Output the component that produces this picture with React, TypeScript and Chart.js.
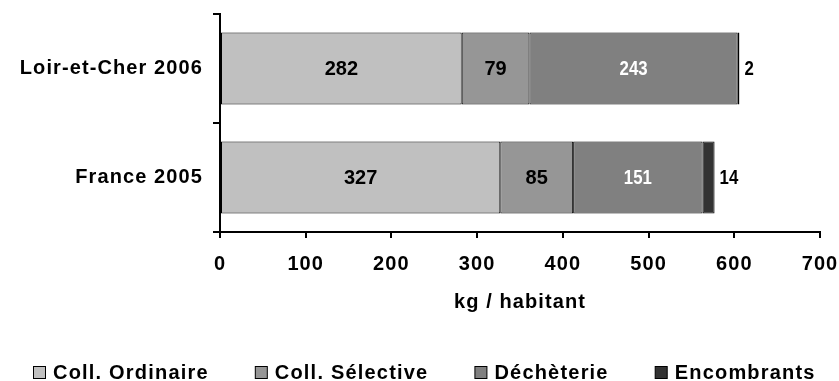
import React, { useEffect, useRef } from "react";
import { Chart, registerables } from "chart.js";

Chart.register(...registerables);

// ---- data ----
const categories = ["Loir-et-Cher 2006", "France 2005"];
const seriesNames = ["Coll. Ordinaire", "Coll. Sélective", "Déchèterie", "Encombrants"];
const collOrdinaire = [282, 327];
const collSelective = [79, 85];
const decheterie = [243, 151];
const encombrants = [2, 14];
const xMin = 0;
const xMax = 700;
const xStep = 100;
const axisTitle = "kg / habitant";

// ---- styles ----
const FONT = '"Liberation Sans", Arial, Helvetica, sans-serif';
const colors = ["#C0C0C0", "#969696", "#808080", "#333333"];
const labelStyles = [
  { color: "#000", outside: false, narrow: false },
  { color: "#000", outside: false, narrow: false },
  { color: "#fff", outside: false, narrow: true },
  { color: "#000", outside: true, narrow: true },
];
const SPACING = "1.1px";

const spacingPlugin = {
  id: "spacing",
  beforeLayout(chart: any) {
    chart.ctx.letterSpacing = SPACING;
  },
  beforeDraw(chart: any) {
    chart.ctx.letterSpacing = SPACING;
  },
};

const labelPlugin = {
  id: "segLabels",
  afterDatasetsDraw(chart: any) {
    const ctx = chart.ctx;
    chart.data.datasets.forEach((ds: any, di: number) => {
      const meta = chart.getDatasetMeta(di);
      meta.data.forEach((el: any, i: number) => {
        const v = String(ds.data[i]);
        const { x, base, y } = el.getProps(["x", "base", "y"], true);
        const st = labelStyles[di];
        ctx.save();
        ctx.letterSpacing = "0px";
        ctx.font = st.narrow ? `bold 21px ${FONT}` : `bold 20px ${FONT}`;
        ctx.fillStyle = st.color;
        ctx.textBaseline = "middle";
        const sx = st.narrow ? 0.8 : 1;
        const w = ctx.measureText(v).width * sx;
        const left = st.outside ? x + 5 : (x + base) / 2 - w / 2;
        ctx.translate(left, y + 1);
        ctx.scale(sx, 1);
        ctx.textAlign = "left";
        ctx.fillText(v, 0, 0);
        ctx.restore();
      });
    });
  },
};

const LEGEND_X = 33;
const LEGEND_Y = 372;
const legendPlugin = {
  id: "customLegend",
  afterDraw(chart: any) {
    const ctx = chart.ctx;
    ctx.save();
    ctx.font = `bold 20px ${FONT}`;
    ctx.letterSpacing = "1.2px";
    ctx.textAlign = "left";
    ctx.textBaseline = "middle";
    let x = LEGEND_X;
    seriesNames.forEach((name, i) => {
      ctx.fillStyle = colors[i];
      ctx.fillRect(x + 0.5, LEGEND_Y - 6 + 0.5, 12, 12);
      ctx.strokeStyle = "#000";
      ctx.lineWidth = 1;
      ctx.strokeRect(x + 0.5, LEGEND_Y - 6 + 0.5, 12, 12);
      ctx.fillStyle = "#000";
      ctx.fillText(name, x + 20, LEGEND_Y + 1);
      x += 20 + ctx.measureText(name).width + 46;
    });
    ctx.restore();
  },
};

export default function App() {
  const ref = useRef<HTMLCanvasElement | null>(null);

  useEffect(() => {
    document.body.style.margin = "0";
    const canvas = ref.current;
    if (!canvas) return;
    const series = [collOrdinaire, collSelective, decheterie, encombrants];
    const chart = new Chart(canvas, {
      type: "bar",
      data: {
        labels: categories,
        datasets: series.map((d, i) => ({
          label: seriesNames[i],
          data: d,
          backgroundColor: colors[i],
          borderColor: "#000",
          borderWidth: 1,
          borderSkipped: false,
          barPercentage: 0.66,
          categoryPercentage: 1,
        })),
      },
      options: {
        indexAxis: "y",
        animation: false,
        responsive: false,
        layout: { padding: { top: 14, right: 19, left: 0, bottom: 0 } },
        plugins: {
          legend: { display: false },
          tooltip: { enabled: false },
        },
        scales: {
          x: {
            stacked: true,
            min: xMin,
            max: xMax,
            ticks: {
              stepSize: xStep,
              color: "#000",
              font: { family: FONT, size: 20, weight: "bold" },
              padding: 14,
              maxRotation: 0,
            },
            grid: { drawOnChartArea: false, drawTicks: true, tickLength: 6, color: "#000", lineWidth: 2 },
            border: { color: "#000", width: 2 },
            title: {
              display: true,
              text: axisTitle,
              color: "#000",
              font: { family: FONT, size: 20, weight: "bold" },
              padding: { top: 0, bottom: 67 },
            },
            afterFit(scale: any) {
              scale.height = 149;
              scale.paddingLeft = 0;
              scale.paddingRight = 0;
            },
          },
          y: {
            stacked: true,
            ticks: {
              color: "#000",
              font: { family: FONT, size: 20, weight: "bold" },
              padding: 10,
            },
            grid: { drawOnChartArea: false, tickLength: 7, color: "#000", lineWidth: 2, offset: true },
            border: { color: "#000", width: 2 },
            afterFit(scale: any) {
              scale.width = 220;
              scale.paddingTop = 0;
              scale.paddingBottom = 0;
            },
          },
        },
      } as any,
      plugins: [spacingPlugin, labelPlugin, legendPlugin],
    });
    return () => chart.destroy();
  }, []);

  return (
    <div style={{ width: 839, height: 381, position: "relative", background: "#fff" }}>
      <canvas ref={ref} width={839} height={381} />
    </div>
  );
}
